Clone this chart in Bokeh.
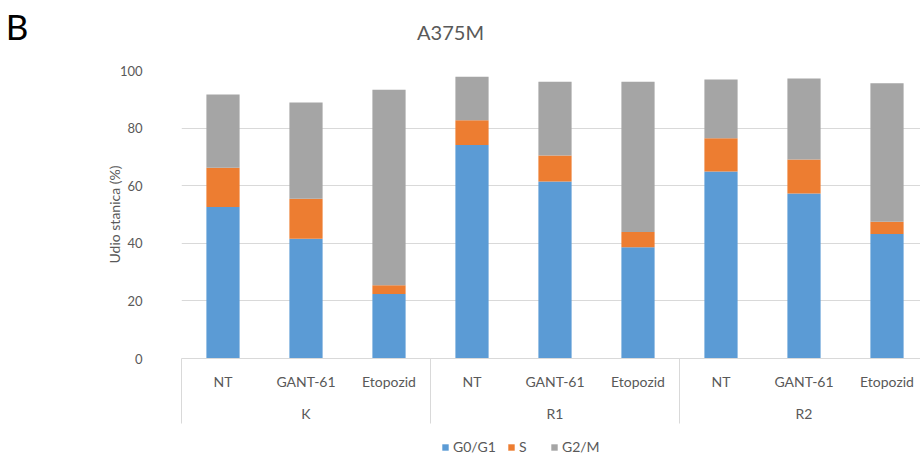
from bokeh.plotting import figure
from bokeh.layouts import column
from bokeh.models import (Range1d, LinearAxis, FixedTicker, Label, Legend,
                          LegendItem, ColumnDataSource)
from bokeh.embed import file_html
from bokeh.resources import INLINE

# ---- data ----
panel_letter = "B"
chart_title = "A375M"
groups = ["K", "R1", "R2"]
treatments = ["NT", "GANT-61", "Etopozid"]
series_names = ["G0/G1", "S", "G2/M"]
g0g1 = [52.6, 41.6, 22.4, 74.1, 61.5, 38.6, 64.9, 57.3, 43.2]
s_phase = [13.6, 13.9, 3.0, 8.6, 9.0, 5.3, 11.6, 11.8, 4.3]
g2m = [25.5, 33.4, 67.9, 15.1, 25.6, 52.2, 20.4, 28.1, 48.1]
y_ticks = [0, 20, 40, 60, 80, 100]

colors = ["#5B9BD5", "#ED7D31", "#A5A5A5"]
TXT = "#595959"
GRID = "#D9D9D9"
FONT = "Lato"

n_t = len(treatments)
n = len(groups) * n_t
xs = list(range(n))
labels = [t for g in groups for t in treatments]

src = ColumnDataSource(dict(x=xs, g0g1=g0g1, s=s_phase, g2m=g2m))

# ---------------- header strip: panel letter + title ----------------
HEAD_H = 50
ph = figure(width=920, height=HEAD_H, output_backend="svg", toolbar_location=None,
            x_range=Range1d(0, 739), y_range=Range1d(0, HEAD_H),
            x_axis_type=None, y_axis_type=None,
            min_border_left=0, min_border_right=0, min_border_top=0, min_border_bottom=0)
ph.outline_line_color = None
ph.xgrid.grid_line_color = None
ph.ygrid.grid_line_color = None
letter_axis = LinearAxis(ticker=FixedTicker(ticks=[HEAD_H - 33]),
                         major_label_overrides={HEAD_H - 33: panel_letter})
letter_axis.axis_line_color = None
letter_axis.major_tick_line_color = None
letter_axis.minor_tick_line_color = None
letter_axis.major_tick_out = 0
letter_axis.major_tick_in = 0
letter_axis.major_label_standoff = 153
letter_axis.major_label_text_font = FONT
letter_axis.major_label_text_font_size = "35px"
letter_axis.major_label_text_color = "black"
ph.add_layout(letter_axis, "left")
ph.add_layout(Label(x=269, y=HEAD_H - 31, x_units="screen", y_units="screen", text=chart_title,
                    text_align="center", text_baseline="middle", text_font=FONT,
                    text_font_size="20px", text_color=TXT))

# ---------------- main chart ----------------
p = figure(width=920, height=382, output_backend="svg", toolbar_location=None,
           x_range=Range1d(-0.5, -0.5 + 739 / 83), y_range=Range1d(0, 100),
           x_axis_type=None, min_border_left=181, min_border_right=0,
           min_border_top=20, min_border_bottom=74)
p.outline_line_color = None
p.background_fill_color = "white"
p.border_fill_color = "white"

rs = p.vbar_stack(["g0g1", "s", "g2m"], x="x", width=0.4, color=colors,
                  line_color=None, source=src)

# y axis
p.yaxis.ticker = FixedTicker(ticks=y_ticks)
p.yaxis.axis_line_color = None
p.yaxis.major_tick_line_color = None
p.yaxis.minor_tick_line_color = None
p.yaxis.major_label_standoff = 33
p.yaxis.major_label_text_font = FONT
p.yaxis.major_label_text_font_size = "13px"
p.yaxis.major_label_text_color = TXT
p.yaxis.axis_label = "Udio stanica (%)"
p.yaxis.axis_label_standoff = -6
p.yaxis.axis_label_text_baseline = "middle"
p.yaxis.axis_label_text_font = FONT
p.yaxis.axis_label_text_font_size = "14px"
p.yaxis.axis_label_text_font_style = "normal"
p.yaxis.axis_label_text_color = TXT
p.ygrid.ticker = FixedTicker(ticks=y_ticks)
p.ygrid.grid_line_color = GRID
p.xgrid.grid_line_color = None

# x axis level 1 (treatments) with group separators as minor ticks
seps = [g * n_t - 0.5 for g in range(len(groups) + 1)]
ax1 = LinearAxis(ticker=FixedTicker(ticks=xs, minor_ticks=seps),
                 major_label_overrides={x: l for x, l in zip(xs, labels)})
ax1.axis_line_color = GRID
ax1.major_tick_in = 0
ax1.major_tick_out = 0
ax1.minor_tick_in = 0
ax1.minor_tick_out = 65
ax1.minor_tick_line_color = GRID
ax1.major_label_standoff = 14 - 65
ax1.major_label_text_font = FONT
ax1.major_label_text_font_size = "14px"
ax1.major_label_text_color = TXT
p.add_layout(ax1, "below")

# x axis level 2 (groups)
gpos = [g * n_t + (n_t - 1) / 2 for g in range(len(groups))]
ax2 = LinearAxis(ticker=FixedTicker(ticks=gpos),
                 major_label_overrides={x: l for x, l in zip(gpos, groups)})
ax2.axis_line_color = None
ax2.major_tick_line_color = None
ax2.minor_tick_line_color = None
ax2.major_tick_out = 0
ax2.major_tick_in = 0
ax2.major_label_standoff = 12
ax2.major_label_text_font = FONT
ax2.major_label_text_font_size = "14px"
ax2.major_label_text_color = TXT
p.add_layout(ax2, "below")

# ---------------- legend strip ----------------
pl = figure(width=920, height=25, output_backend="svg", toolbar_location=None,
            x_range=Range1d(-0.5, 8.5), y_range=Range1d(0, 100),
            x_axis_type=None, y_axis_type=None,
            min_border_left=0, min_border_right=0, min_border_top=0, min_border_bottom=0)
pl.outline_line_color = None
pl.xgrid.grid_line_color = None
pl.ygrid.grid_line_color = None
rl = pl.vbar_stack(["g0g1", "s", "g2m"], x="x", width=0.4, color=colors,
                   line_color=None, source=src)
for r in rl:
    r.visible = False
legend = Legend(items=[LegendItem(label=nm, renderers=[r]) for nm, r in zip(series_names, rl)],
                orientation="horizontal", location=(260, 2))
legend.glyph_width = 8
legend.glyph_height = 8
legend.label_height = 16
legend.label_standoff = 4
legend.spacing = 11
legend.padding = 0
legend.margin = 0
legend.border_line_color = None
legend.background_fill_alpha = 0
legend.label_text_font = FONT
legend.label_text_font_size = "14px"
legend.label_text_color = TXT
pl.add_layout(legend)

open("out.html", "w").write(file_html(column(ph, p, pl, spacing=0), INLINE))
